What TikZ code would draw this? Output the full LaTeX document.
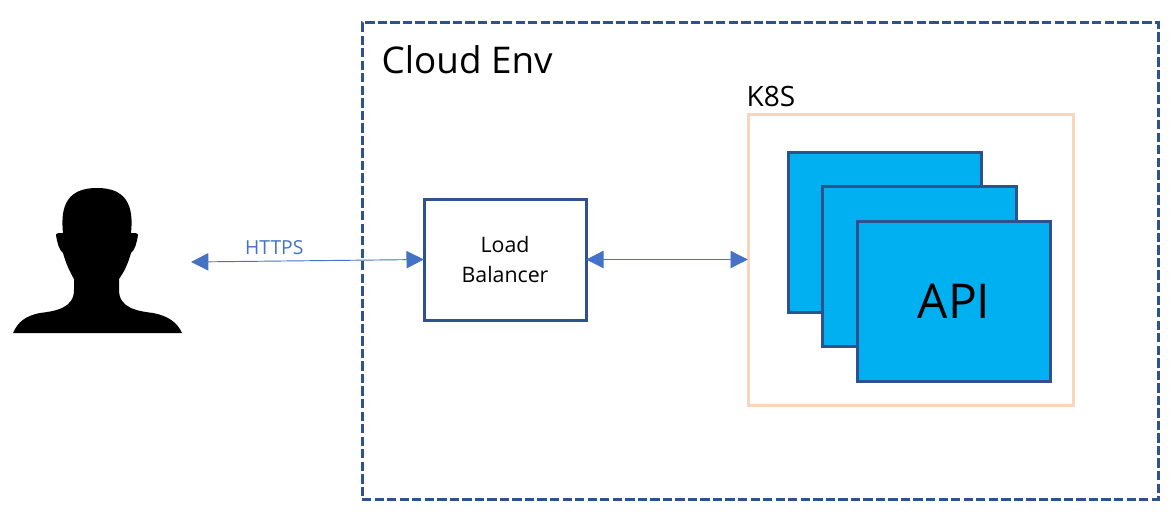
\documentclass[tikz,border=0pt]{standalone}
\usepackage{fontspec}
\setmainfont{Open Sans}
\usetikzlibrary{arrows.meta}
\definecolor{navy}{RGB}{47,82,143}
\definecolor{linkblue}{RGB}{68,114,196}
\definecolor{apiblue}{RGB}{0,176,240}
\definecolor{peach}{RGB}{248,214,190}
\tikzset{
	box/.style={draw=navy,line width=2.25pt,inner sep=0pt,align=center},
	apibox/.style={box,fill=apiblue,minimum width=145pt,minimum height=120pt},
	link/.style={<->,draw=linkblue,line width=0.7pt,shorten >=-1pt,>={Triangle[length=13pt,width=13pt]}},
}
\begin{document}
\begin{tikzpicture}[x=0.75pt,y=-0.75pt]
	\useasboundingbox (0,0) rectangle (1173,517);
	% person
	\fill (13,333) .. controls (18,322) and (25,316) .. (40,313)
		.. controls (56,311) and (74,308) .. (74,290)
		-- (74,279)
		.. controls (70,272) and (66,264) .. (63,253)
		.. controls (59,250) and (57,242) .. (56,235)
		.. controls (56,233) and (59,233) .. (63,233)
		.. controls (60,205) and (68,188) .. (97,188)
		.. controls (126,188) and (134,205) .. (131,233)
		.. controls (135,233) and (138,233) .. (138,235)
		.. controls (137,242) and (135,250) .. (131,253)
		.. controls (128,264) and (124,272) .. (119,279)
		-- (119,290)
		.. controls (119,308) and (137,311) .. (153,313)
		.. controls (168,316) and (177,322) .. (182,333) -- cycle;
	\coordinate (user) at (191,262);
	% cloud
	\node[draw=navy,line width=2.25pt,dash pattern=on 7pt off 2.4pt,minimum width=597pt,minimum height=357pt,inner sep=0pt] (cloud) at (760,261) {};
	\node[anchor=west,font=\fontsize{27.6}{32}\selectfont] (cloudlabel) at (377,60) {Cloud Env};
	% k8s
	\node[draw=peach,line width=2.25pt,minimum width=243.75pt,minimum height=218.25pt,inner sep=0pt] (k8s) at (910.5,259.5) {};
	\node[anchor=west,font=\fontsize{21}{24}\selectfont] (k8slabel) at (742,96) {K8S};
	\node[apibox] (api1) at (885,232.5) {};
	\node[apibox] (api2) at (919.5,266.5) {};
	\node[apibox,font=\fontsize{36}{42}\selectfont] (api3) at (954,301) {API};
	% balancer
	\node[box,minimum width=121.5pt,minimum height=90.75pt,font=\fontsize{16}{23}\selectfont] (lb) at (505,259.5) {Load\\Balancer};
	\draw[link] (user) to node[pos=0.36,above=1pt,text=linkblue,font=\fontsize{14.5}{16}\selectfont] (https) {HTTPS} (lb.west);
	\draw[link,shorten <=-1pt] (lb.east) to (k8s.west);
\end{tikzpicture}
\end{document}
